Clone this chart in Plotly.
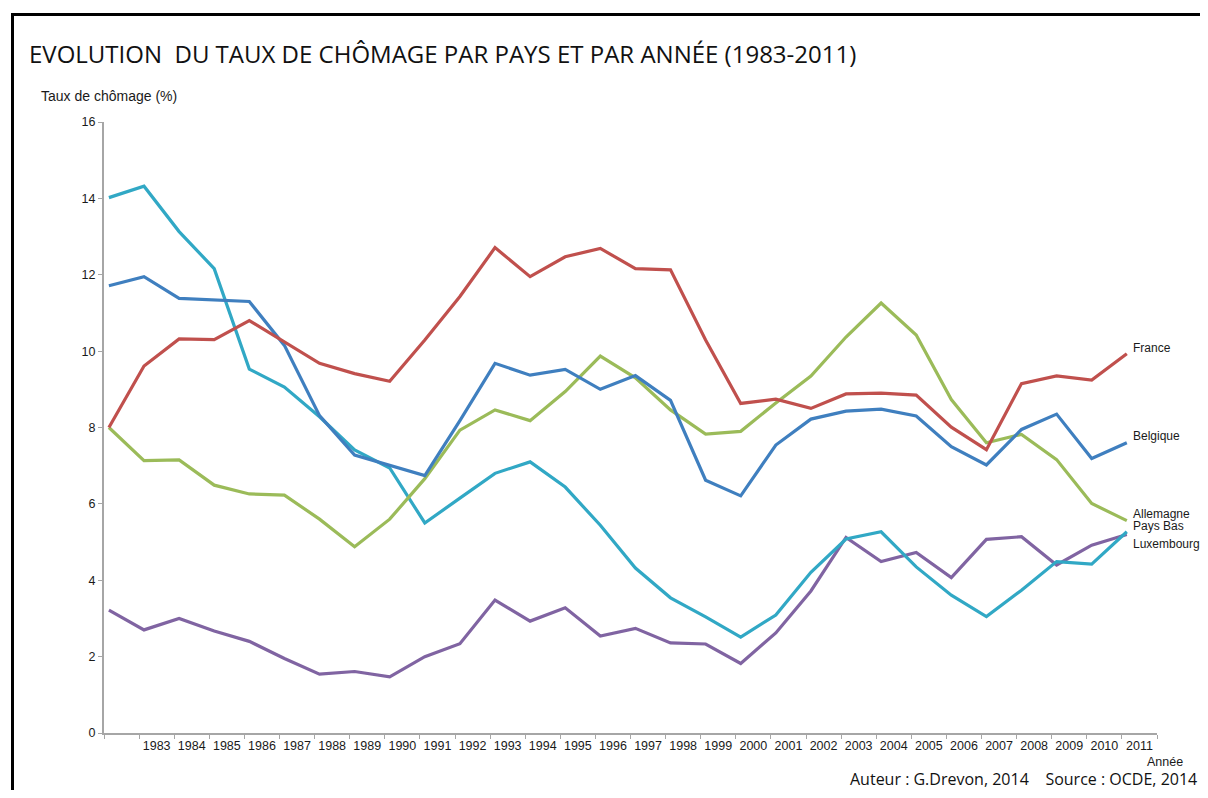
import plotly.graph_objects as go

years = list(range(1982, 2012))
tick_labels = [str(y) for y in range(1983, 2012)]

france = [8.0, 9.61, 10.32, 10.30, 10.80, 10.23, 9.68, 9.41, 9.21, 10.29,
          11.43, 12.71, 11.95, 12.47, 12.69, 12.16, 12.13, 10.29, 8.63, 8.74,
          8.50, 8.88, 8.90, 8.85, 8.01, 7.42, 9.15, 9.35, 9.24, 9.93]
belgique = [11.71, 11.95, 11.38, 11.33, 11.30, 10.15, 8.31, 7.28, 7.02, 6.74,
            8.18, 9.68, 9.37, 9.52, 9.00, 9.36, 8.71, 6.62, 6.21, 7.54,
            8.22, 8.43, 8.48, 8.30, 7.50, 7.02, 7.95, 8.35, 7.19, 7.60]
allemagne = [8.0, 7.13, 7.15, 6.49, 6.26, 6.23, 5.60, 4.88, 5.60, 6.66,
             7.93, 8.46, 8.18, 8.94, 9.87, 9.30, 8.46, 7.83, 7.90, 8.64,
             9.35, 10.37, 11.26, 10.42, 8.73, 7.60, 7.82, 7.16, 6.01, 5.56]
pays_bas = [14.02, 14.32, 13.13, 12.16, 9.53, 9.06, 8.28, 7.41, 6.94, 5.50,
            6.15, 6.80, 7.10, 6.44, 5.44, 4.32, 3.54, 3.04, 2.51, 3.09,
            4.21, 5.08, 5.27, 4.35, 3.61, 3.05, 3.74, 4.49, 4.42, 5.27]
luxembourg = [3.22, 2.70, 3.00, 2.67, 2.40, 1.95, 1.54, 1.61, 1.47, 2.00,
              2.34, 3.48, 2.93, 3.28, 2.54, 2.74, 2.36, 2.33, 1.82, 2.62,
              3.72, 5.12, 4.49, 4.73, 4.07, 5.07, 5.14, 4.40, 4.92, 5.20]

series_names = ["France", "Belgique", "Allemagne", "Pays Bas", "Luxembourg"]
series_values = [france, belgique, allemagne, pays_bas, luxembourg]
series_colors = ["#C0504D", "#3F7FBF", "#9BBB59", "#31A8C5", "#8064A2"]
label_y = [10.08, 7.77, 5.74, 5.42, 4.95]

# draw order (back to front)
draw_order = [4, 3, 2, 1, 0]

fig = go.Figure()
for k in draw_order:
    fig.add_trace(go.Scatter(
        x=years, y=series_values[k], mode="lines", name=series_names[k],
        line=dict(color=series_colors[k], width=3.2), showlegend=False,
        hoverinfo="x+y+name"))

axis_gray = "#A6A6A6"
FONT = "Liberation Sans, Arial, sans-serif"
xtick_font = dict(family=FONT, size=12.5, color="#1A1A1A")
ytick_font = dict(family=FONT, size=12.5, color="#1A1A1A")
label_font = dict(family=FONT, size=12, color="#1A1A1A")

fig.update_xaxes(
    range=[years[0] - 0.14, years[-1] + 0.86],
    tickmode="array",
    tickvals=[y + 0.36 for y in years[1:]],
    ticktext=tick_labels,
    ticks="",
    showgrid=False, zeroline=False,
    showline=True, linecolor=axis_gray, linewidth=2,
    tickfont=xtick_font,
    minor=dict(tickmode="linear", tick0=years[0] - 0.14, dtick=1,
               ticks="outside", ticklen=4, tickcolor=axis_gray, tickwidth=1,
               showgrid=False),
)
fig.update_yaxes(
    range=[0, 16], tickmode="linear", tick0=0, dtick=2,
    ticks="outside", ticklen=4, tickcolor=axis_gray, tickwidth=1,
    showgrid=False, zeroline=False,
    showline=True, linecolor=axis_gray, linewidth=2,
    tickfont=ytick_font,
)

# page body has an 8px margin: figure occupies window px 8..1200, 8..790
OFF = 8
W, H = 1208 - 2 * OFF, 798 - 2 * OFF
X0, X1, Y0, Y1 = 104, 1157, 122, 733   # plot area in window pixels
L, R, T, B = X0 - OFF, (OFF + W) - X1, Y0 - OFF, (OFF + H) - Y1
pw, ph = X1 - X0, Y1 - Y0

def px(xp):
    return (xp - X0) / pw

def py(yp):
    return (Y1 - yp) / ph

annotations = []
for name, ly in zip(series_names, label_y):
    annotations.append(dict(x=px(1131), xref="paper", y=ly, yref="y",
                            text=name, showarrow=False, xanchor="left",
                            yanchor="middle", font=label_font))

annotations += [
    dict(x=px(27), y=py(54), xref="paper", yref="paper",
         text="EVOLUTION&nbsp; DU TAUX DE CHÔMAGE PAR PAYS ET PAR ANNÉE (1983-2011)",
         showarrow=False, xanchor="left", yanchor="middle",
         font=dict(family="Open Sans, sans-serif", size=24, color="#111111")),
    dict(x=px(39), y=py(96), xref="paper", yref="paper",
         text="Taux de chômage (%)", showarrow=False, xanchor="left", yanchor="middle",
         font=dict(family=FONT, size=14, color="#1A1A1A")),
    dict(x=px(1145), y=py(762), xref="paper", yref="paper",
         text="Année", showarrow=False, xanchor="left", yanchor="middle",
         font=dict(family=FONT, size=12.5, color="#1A1A1A")),
    dict(x=px(1199), y=py(779), xref="paper", yref="paper",
         text="Auteur : G.Drevon, 2014&nbsp;&nbsp;&nbsp;&nbsp;Source : OCDE, 2014",
         showarrow=False, xanchor="right", yanchor="middle",
         font=dict(family="Open Sans, sans-serif", size=16, color="#111111")),
]

shapes = [
    dict(type="line", xref="paper", yref="paper", x0=px(11), x1=px(1210),
         y0=py(14.5), y1=py(14.5), line=dict(color="#000000", width=3)),
    dict(type="line", xref="paper", yref="paper", x0=px(12.5), x1=px(12.5),
         y0=py(13), y1=py(800), line=dict(color="#000000", width=3)),
]

fig.update_layout(
    width=W, height=H,
    margin=dict(l=L, r=R, t=T, b=B),
    paper_bgcolor="white", plot_bgcolor="white",
    annotations=annotations, shapes=shapes,
    showlegend=False,
)

fig.write_html("out.html")
